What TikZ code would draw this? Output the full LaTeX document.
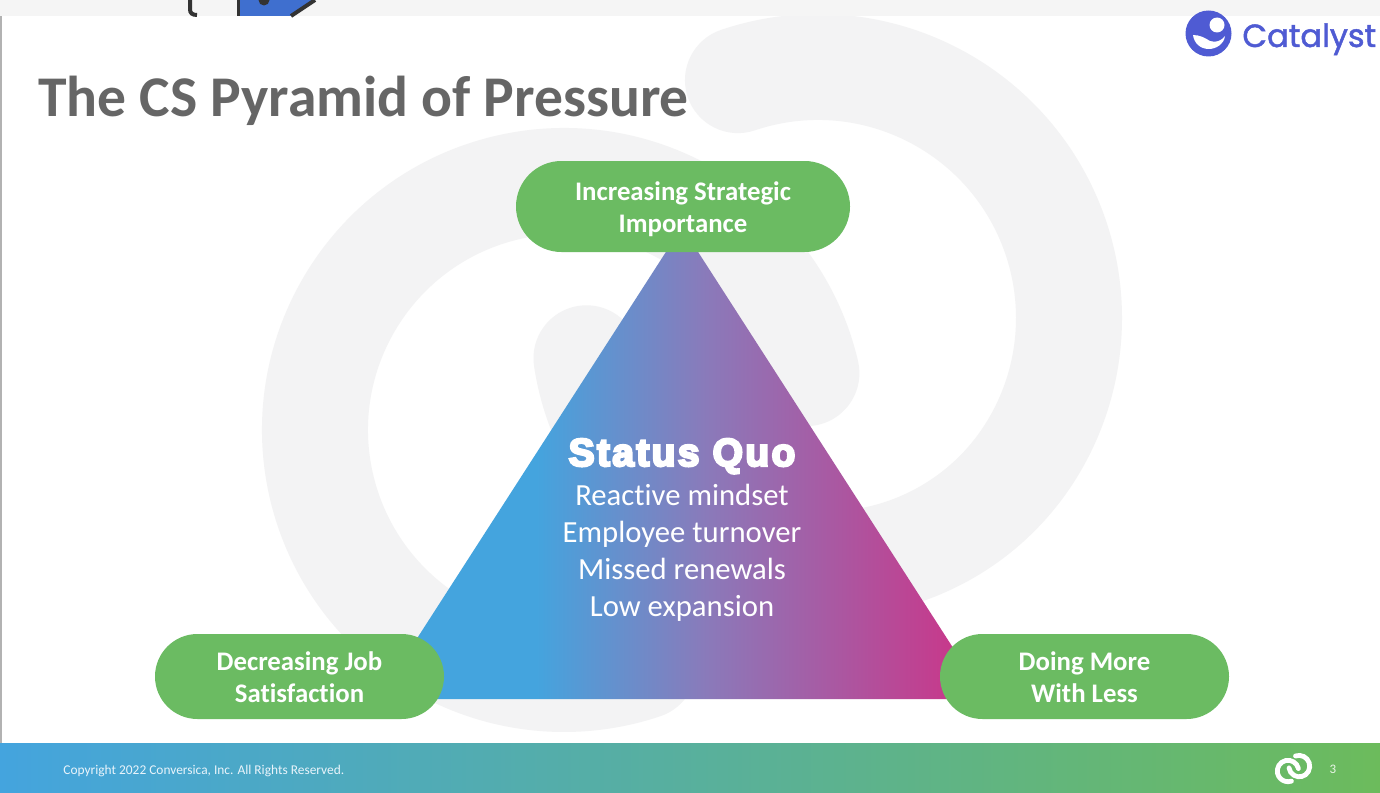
\documentclass[tikz,border=0pt]{standalone}
\usepackage{fontspec}
\setmainfont[Ligatures=NoCommon]{Carlito}
\newfontfamily\statusfont[FakeBold=6,LetterSpace=6]{Liberation Sans Bold}
\newfontfamily\brandfont[FakeBold=1.5]{Poppins}
\usetikzlibrary{shapes.misc}
\definecolor{pillgreen}{HTML}{6BBB62}
\definecolor{ringgray}{HTML}{F3F3F4}
\definecolor{stripgray}{HTML}{F5F5F5}
\definecolor{titlegray}{HTML}{666666}
\definecolor{brandblue}{HTML}{4F5BD3}
\definecolor{footblue}{HTML}{44A4DE}
\definecolor{footgreen}{HTML}{6CBB5C}
\definecolor{shademid}{HTML}{8A7ABA}
\definecolor{shadeend}{HTML}{C63A8C}
\definecolor{tagblue}{HTML}{3F6FCF}
\definecolor{tagdark}{HTML}{333333}
\pgfdeclarehorizontalshading{statusshade}{100bp}{
  color(0bp)=(footblue); color(25bp)=(footblue); color(38bp)=(footblue);
  color(52bp)=(shademid); color(72bp)=(shadeend); color(100bp)=(shadeend)}
\tikzset{
  pill/.style={rounded rectangle,fill=pillgreen,text=white,inner sep=0pt,align=center,
    font=\fontsize{13.4}{16}\bfseries\selectfont,text height=28.5pt},
  lowpill/.style={pill,minimum width=144.5pt,minimum height=42.5pt,text height=26.5pt},
  bodyline/.style={text=white,inner sep=0pt,anchor=base,font=\fontsize{15.35}{18}\selectfont},
}
\newcommand{\ringpair}[1]{
  \draw[#1] (126,-54) ++(-108.6:251) arc[start angle=-108.6,end angle=30,radius=251]
    arc[start angle=30,end angle=171.5,radius=242];
  \draw[#1] (-128,58) ++(-13.2:249) arc[start angle=-13.2,end angle=-288.6,radius=249];
}
\begin{document}
\begin{tikzpicture}
\pgfsetxvec{\pgfpoint{0.5pt}{0}}
\pgfsetyvec{\pgfpoint{0}{-0.5pt}}
  \useasboundingbox (0,0) rectangle (1380,792);
  \fill[white] (0,0) rectangle (1380,792);
  \begin{scope}[shift={(692,372)}]
    \ringpair{ringgray,line width=53pt,line cap=round}
  \end{scope}
  \fill[stripgray] (0,0) rectangle (1380,16);
  \draw[tagdark,line width=2pt] (190,0)--(190,9) .. controls (190,13) and (192,15) .. (197,15);
  \fill[tagblue] (238,0)--(238,16)--(291,16)--(315,0)--cycle;
  \draw[tagdark,line width=1.5pt] (238,0)--(238,16);
  \draw[tagdark,line width=2pt] (291,16)--(315,0);
  \fill[tagdark] (264,0) circle (5.5);
  \fill[black!30] (0,16) rectangle (2,743);
  \shade[shading=statusshade] (682,227)--(378,699)--(986,699)--cycle;
  \shade[left color=footblue,right color=footgreen] (0,743) rectangle (1380,792);

  \node[anchor=base west,inner sep=0pt,text=titlegray,font=\fontsize{28.8}{32}\bfseries\selectfont] (title) at (38,117) {The CS Pyramid of Pressure};
  \node[pill,minimum width=167pt,minimum height=45.5pt] (top) at (683,206.5) {Increasing Strategic\\Importance};
  \node[lowpill] (left) at (299.5,676.5) {Decreasing Job\\Satisfaction};
  \node[lowpill] (right) at (1084.5,676.5) {Doing More\\With Less};

  \node[anchor=base,inner sep=0pt,text=white,font=\fontsize{19.5}{22}\statusfont] (status) at (682,466) {Status Quo};
  \node[bodyline] (line1) at (682,505) {Reactive mindset};
  \node[bodyline] (line2) at (682,542) {Employee turnover};
  \node[bodyline] (line3) at (682,579) {Missed renewals};
  \node[bodyline] (line4) at (682,616) {Low expansion};

  \fill[brandblue] (1208.5,33.5) circle (23);
  \fill[white] (1217,25) circle (7.5);
  \fill[white] (1193,35) .. controls (1200,35) and (1205,38) .. (1210,41) .. controls (1216,43) and (1221,41) .. (1225,36) .. controls (1224,44) and (1216,49) .. (1209,49) .. controls (1200,49) and (1194,43) .. (1193,35);
  \node[anchor=base west,inner sep=0pt,text=brandblue,font=\fontsize{16}{18}\brandfont] (brand) at (1242,47) {Catalyst};

  \node[anchor=base west,inner sep=0pt,text=white!88!footblue,font=\fontsize{6.7}{8}\selectfont] (copyright) at (63,774) {Copyright 2022 Conversica, Inc. All Rights Reserved.};
  \begin{scope}[shift={(1293.5,768.5)},scale=.043]
    \ringpair{white,line width=2.4pt,line cap=round}
  \end{scope}
  \node[inner sep=0pt,text=white!85!footgreen,font=\fontsize{6.5}{8}\selectfont] (page) at (1333,769.5) {3};
\end{tikzpicture}
\end{document}
